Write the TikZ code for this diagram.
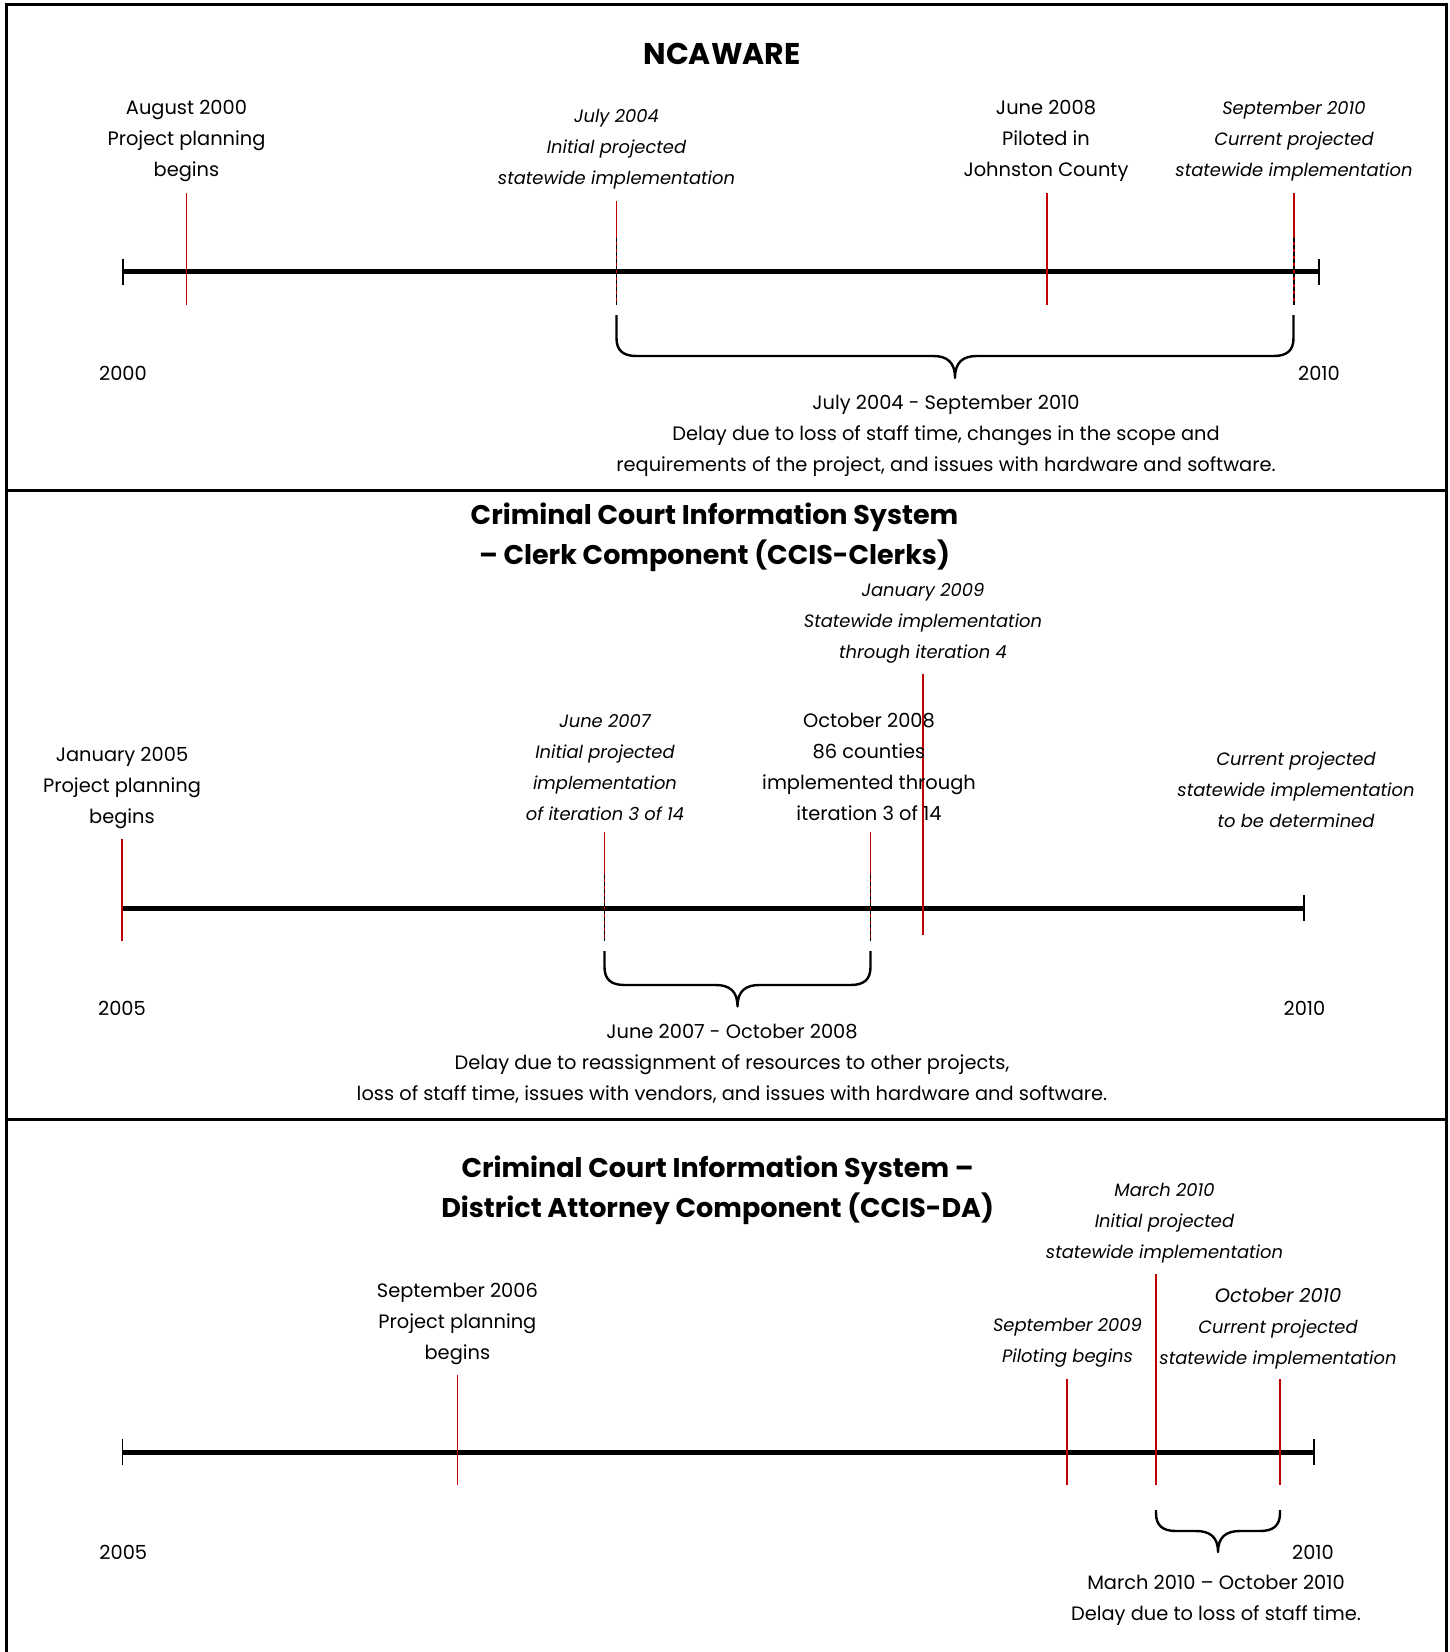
\documentclass[tikz,border=0pt]{standalone}
\usepackage{fontspec}
\setmainfont{Poppins}
\usepackage{tikz}

\definecolor{markred}{RGB}{192,0,0}
\newcommand{\evtfont}{\fontsize{19.4}{31}\selectfont}
\newcommand{\evtifont}{\fontsize{17.9}{31}\selectfont\itshape}
\newcommand{\ttlfont}{\fontsize{27}{40}\selectfont\bfseries}

\tikzset{
	evt/.style={align=center, inner sep=0pt, yshift=-3pt, font=\evtfont},
	evti/.style={evt, font=\evtifont},
	ttl/.style={align=center, inner sep=0pt, yshift=-3pt, font=\ttlfont},
	axis/.style={line width=5pt},
	axtick/.style={line width=1.6pt},
	marker/.style={markred, line width=1.3pt},
	bigmarker/.style={markred, line width=2pt},
	overdash/.style={black, line width=1.7pt, dash pattern=on 4pt off 3pt},
	bracepath/.style={line width=2.4pt, line join=round},
	frame/.style={line width=3pt}
}

% timeline axis with end ticks: x from, x to, y
\newcommand{\timeaxis}[3]{
	\draw[axis] (#1,#3) -- (#2,#3);
	\draw[axtick] (#1,#3-13) -- (#1,#3+13);
	\draw[axtick] (#2,#3-13) -- (#2,#3+13);
}
% curly bracket under a delay: x1, x2, top, middle, tip
\newcommand{\delaybrace}[5]{
	\pgfmathsetmacro{\bxc}{(#1+#2)/2}
	\draw[bracepath] (#1,#3) -- (#1,#4-18) .. controls (#1,#4-6) and (#1+6,#4) .. (#1+20,#4)
		-- (\bxc-22,#4) .. controls (\bxc-8,#4) and (\bxc,#4+6) .. (\bxc,#5)
		.. controls (\bxc,#4+6) and (\bxc+8,#4) .. (\bxc+22,#4)
		-- (#2-20,#4) .. controls (#2-6,#4) and (#2,#4-6) .. (#2,#4-18) -- (#2,#3);
}

\begin{document}
\begin{tikzpicture}[x=1pt,y=-1pt]
	\useasboundingbox (0,0) rectangle (1450,1652);
	% frame and panel separators
	\draw[frame] (6.5,1652) -- (6.5,4) -- (1446,4) -- (1446,1652);
	\draw[frame] (6.5,490.5) -- (1446,490.5);
	\draw[frame] (6.5,1119) -- (1446,1119);

	% NCAWARE
	\node[ttl, font=\fontsize{30}{40}\selectfont\bfseries] (t1) at (722,51) {NCAWARE};
	\timeaxis{123}{1319}{271.5}
	\draw[marker] (186.5,193) -- (186.5,305);
	\draw[marker] (616.5,201) -- (616.5,305);
	\draw[overdash] (616.5,238) -- (616.5,305);
	\draw[marker] (1047,193) -- (1047,305);
	\draw[marker] (1294,193) -- (1294,305);
	\draw[overdash] (1294,238) -- (1294,305);
	\node[evt] (aug00) at (186.5,137.7) {August 2000\\Project planning\\begins};
	\node[evti] (jul04) at (616.5,146.5) {July 2004\\Initial projected\\statewide implementation};
	\node[evt] (jun08) at (1046,137.7) {June 2008\\Piloted in\\Johnston County};
	\node[evti] (sep10) at (1294,137.7) {September 2010\\Current projected\\statewide implementation};
	\node[evt] (y2000) at (123,370) {2000};
	\node[evt] (y2010a) at (1319,370) {2010};
	\delaybrace{616.5}{1293.5}{315}{356}{378}
	\node[evt] (delay1) at (946,432.4) {July 2004 - September 2010\\Delay due to loss of staff time, changes in the scope and\\requirements of the project, and issues with hardware and software.};

	% CCIS-Clerks
	\node[ttl] (t2) at (714.5,534) {Criminal Court Information System\\-- Clerk Component (CCIS-Clerks)};
	\timeaxis{122}{1304}{908}
	\draw[marker] (122,839) -- (122,941);
	\draw[marker] (604.5,832) -- (604.5,941);
	\draw[overdash] (604.5,875) -- (604.5,941);
	\draw[marker] (870.5,832) -- (870.5,941);
	\draw[overdash] (870.5,875) -- (870.5,941);
	\draw[bigmarker] (923,674) -- (923,935);
	\node[evt] (jan05) at (122,785) {January 2005\\Project planning\\begins};
	\node[evti] (jun07) at (605,764.2) {June 2007\\Initial projected\\implementation\\of iteration 3 of 14};
	\node[evt] (oct08) at (869,764.2) {October 2008\\86 counties\\implemented through\\iteration 3 of 14};
	\node[evti] (jan09) at (923,620.5) {January 2009\\Statewide implementation\\through iteration 4};
	\node[evti] (tbd) at (1296,787.1) {Current projected\\statewide implementation\\to be determined};
	\node[evt] (y2005a) at (122,1005) {2005};
	\node[evt] (y2010b) at (1304.5,1005) {2010};
	\delaybrace{604.5}{870.5}{951}{985}{1006.5}
	\node[evt] (delay2) at (732,1060.8) {June 2007 - October 2008\\Delay due to reassignment of resources to other projects,\\loss of staff time, issues with vendors, and issues with hardware and software.};

	% CCIS-DA
	\node[ttl] (t3) at (717.6,1187) {Criminal Court Information System --\\District Attorney Component (CCIS-DA)};
	\timeaxis{122.5}{1314}{1452}
	\draw[marker] (457.4,1375) -- (457.4,1485);
	\draw[marker] (1067,1379) -- (1067,1485);
	\draw[bigmarker] (1156,1274) -- (1156,1485);
	\draw[marker] (1280,1379) -- (1280,1485);
	\node[evt] (sep06) at (457.4,1320.8) {September 2006\\Project planning\\begins};
	\node[evti] (sep09) at (1067.5,1339.3) {September 2009\\Piloting begins};
	\node[evti] (mar10) at (1164.5,1220.6) {March 2010\\Initial projected\\statewide implementation};
	\node[evti] (oct10) at (1278,1325.2) {{\evtfont October 2010}\\Current projected\\statewide implementation};
	\node[evt] (y2005b) at (123.3,1549) {2005};
	\node[evt] (y2010c) at (1313,1549) {2010};
	\delaybrace{1156}{1280}{1510}{1531}{1552}
	\node[evt] (delay3) at (1216,1597.5) {March 2010 -- October 2010\\Delay due to loss of staff time.};
\end{tikzpicture}
\end{document}
